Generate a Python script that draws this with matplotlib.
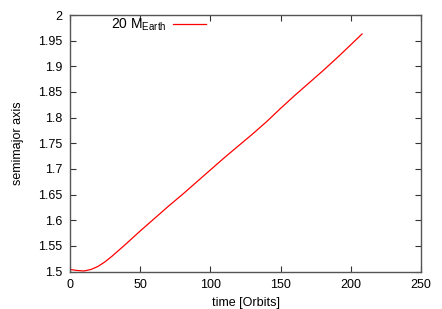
import matplotlib
matplotlib.use("Agg")
import matplotlib.pyplot as plt

t = [0, 5, 10, 15, 20, 25, 30, 40, 50, 60, 70, 80, 90, 100, 110, 120,
     130, 140, 150, 160, 170, 180, 190, 200, 208]
a = [1.504, 1.502, 1.501, 1.504, 1.510, 1.519, 1.530, 1.554, 1.579, 1.603,
     1.627, 1.650, 1.674, 1.698, 1.722, 1.745, 1.768, 1.792, 1.818, 1.843,
     1.867, 1.891, 1.916, 1.942, 1.963]
xticks = [0, 50, 100, 150, 200, 250]
yticks = [1.5, 1.55, 1.6, 1.65, 1.7, 1.75, 1.8, 1.85, 1.9, 1.95, 2.0]
ytick_labels = ["1.5", "1.55", "1.6", "1.65", "1.7", "1.75", "1.8", "1.85", "1.9", "1.95", "2"]

plt.rcParams['font.family'] = ['Liberation Sans', 'DejaVu Sans']
plt.rcParams['mathtext.fontset'] = 'custom'
plt.rcParams['mathtext.rm'] = 'Liberation Sans'
fs = 9
fig = plt.figure(figsize=(4.42, 3.09), dpi=100)
ax = fig.add_axes([70/442, 1 - 271.5/309, (421-70)/442, (271.5-15)/309])
ax.plot(t, a, color='#ff0000', lw=0.9, label=r'20 M$_{\mathrm{Earth}}$')
ax.set_xlim(0, 250)
ax.set_ylim(1.5, 2.0)
ax.set_xticks(xticks)
ax.set_yticks(yticks)
ax.set_yticklabels(ytick_labels)
ax.tick_params(direction='in', length=4, width=0.8, top=True, right=True,
               labelsize=fs, color='#333333', pad=5.5)
for s in ax.spines.values():
    s.set_color('#555555')
    s.set_linewidth(1.0)
ax.set_xlabel('time [Orbits]', fontsize=fs, labelpad=4)
ax.set_ylabel('semimajor axis', fontsize=fs, labelpad=10)
leg = ax.legend(loc='center right', bbox_to_anchor=(0.3875, 0.962), frameon=False,
                fontsize=10, markerfirst=False, handlelength=2.35, handletextpad=0.5,
                borderpad=0, borderaxespad=0)
fig.savefig('out.png', dpi=100)
